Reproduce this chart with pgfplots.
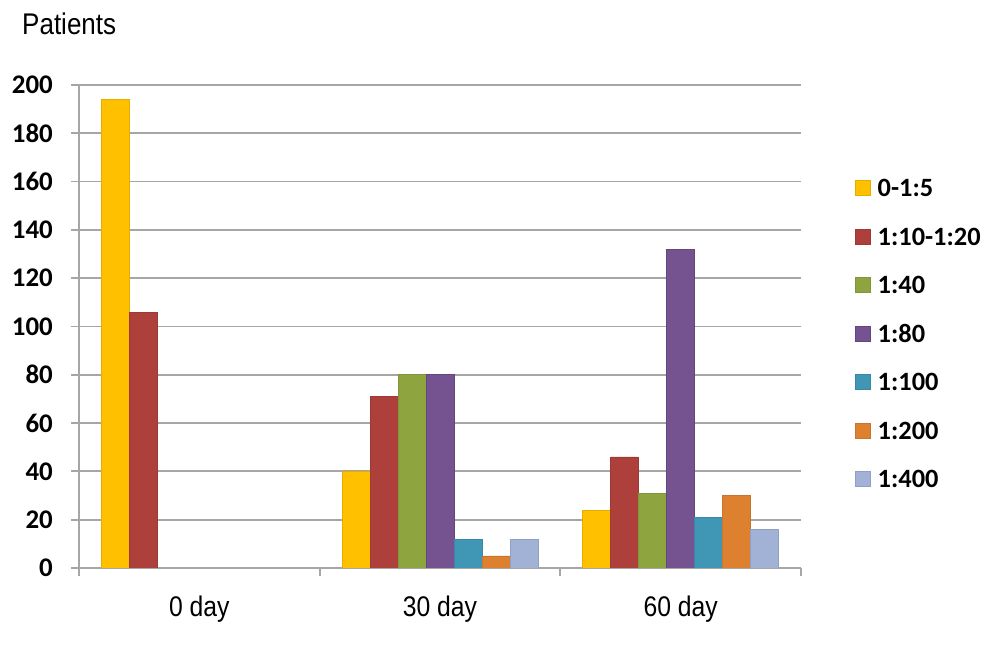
\documentclass[border=0pt]{standalone}
\usepackage{fontspec}
\setmainfont{Carlito}
\newfontfamily\narrow[FakeStretch=0.87]{Liberation Sans}
\usepackage{pgfplots}
\pgfplotsset{compat=1.18}
\definecolor{gridgray}{HTML}{A6A6A6}
\definecolor{c1}{HTML}{FFC000}
\definecolor{c2}{HTML}{AD403B}
\definecolor{c3}{HTML}{8EA53F}
\definecolor{c4}{HTML}{755390}
\definecolor{c5}{HTML}{3F97B5}
\definecolor{c6}{HTML}{DD8131}
\definecolor{c7}{HTML}{A1B2D6}
\begin{document}
\begin{tikzpicture}[x=1bp,y=1bp]
\useasboundingbox (0,0) rectangle (981,651);
\node[anchor=base west, font=\narrow\fontsize{30}{30}\selectfont, inner sep=0pt] at (22,616) {Patients};
\begin{axis}[
  at={(79bp,83bp)}, anchor=south west,
  scale only axis, width=722bp, height=483bp,
  xmin=-0.5, xmax=2.5, ymin=0, ymax=200,
  ybar=0pt, bar width=28bp,
  axis x line*=bottom, axis y line*=left,
  axis line style={draw=gridgray, line width=1.8bp, -},
  ytick={0,20,...,200},
  ymajorgrids, grid style={draw=gridgray, line width=1.8bp},
  tick align=outside, major tick length=8bp,
  tick style={draw=gridgray, line width=1.8bp},
  xtick={-0.5,0.5,1.5,2.5},
  x tick label as interval,
  xticklabels={0 day,30 day,60 day},
  xticklabel style={font=\narrow\fontsize{28.5}{28.5}\selectfont, anchor=base, inner sep=0pt, yshift=-41bp},
  yticklabel style={font=\bfseries\fontsize{27}{27}\selectfont, /pgf/number format/assume math mode=true, anchor=east, inner sep=0pt, xshift=-18bp},
  legend style={at={(1.0748,0.8043)}, anchor=north west, draw=none, inner sep=0pt,
    row sep=31.5bp, font=\bfseries\fontsize{26.5}{26.5}\selectfont,
    nodes={inner sep=0pt, text height=17bp, text depth=0bp},
    /tikz/every odd column/.append style={column sep=7bp}},
  legend cell align=left,
  legend image code/.code={\draw[#1, line width=0.5bp] (0bp,-7.5bp) rectangle (15bp,7.5bp);},
]
\addplot[fill=c1, draw=c1!90!black, line width=0.8bp] coordinates {(0,194) (1,40) (2,24)};
\addplot[fill=c2, draw=c2!90!black, line width=0.8bp] coordinates {(0,106) (1,71) (2,46)};
\addplot[fill=c3, draw=c3!90!black, line width=0.8bp] coordinates {(1,80) (2,31)};
\addplot[fill=c4, draw=c4!85!black, line width=0.8bp] coordinates {(1,80) (2,132)};
\addplot[fill=c5, draw=c5!90!black, line width=0.8bp] coordinates {(1,12) (2,21)};
\addplot[fill=c6, draw=c6!90!black, line width=0.8bp] coordinates {(1,5) (2,30)};
\addplot[fill=c7, draw=c7!90!black, line width=0.8bp] coordinates {(1,12) (2,16)};
\legend{0-1:5,1:10-1:20,1:40,1:80,1:100,1:200,1:400}
\end{axis}
\end{tikzpicture}
\end{document}
